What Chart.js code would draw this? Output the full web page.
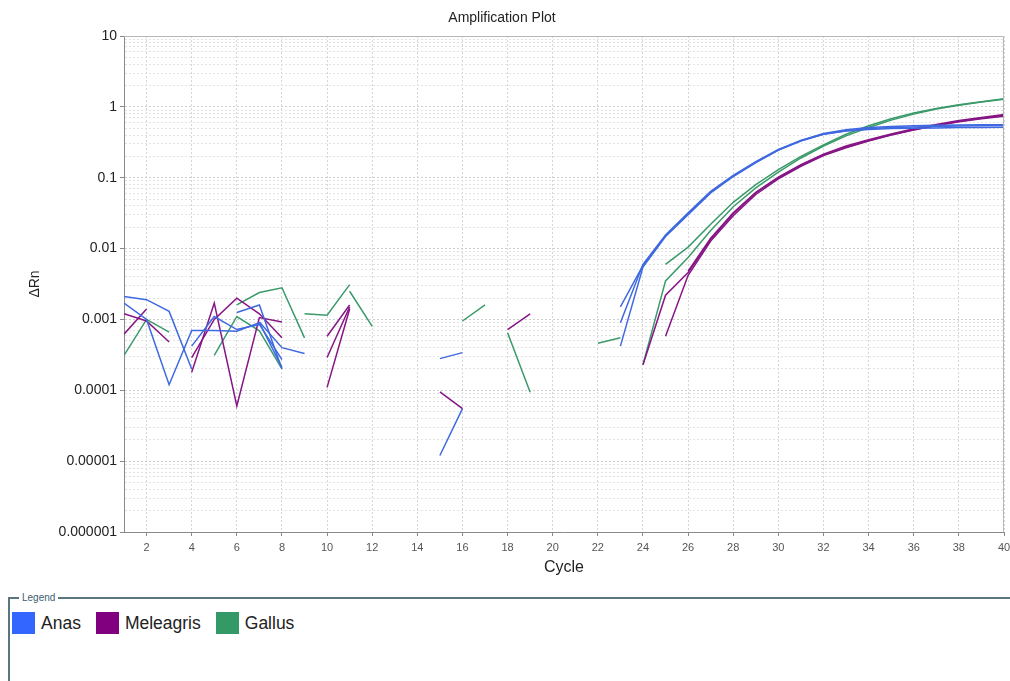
<!DOCTYPE html>
<html>
<head>
<meta charset="utf-8">
<script src="https://cdn.jsdelivr.net/npm/chart.js@4.4.1/dist/chart.umd.min.js"></script>
<style>
html, body { margin: 0; padding: 0; background: #fff; }
body { width: 1010px; height: 681px; position: relative; overflow: hidden; font-family: Arial, "Liberation Sans", sans-serif; }
#plot { position: absolute; left: 0; top: 0; }
#legendBox { position: absolute; left: 8px; top: 597px; width: 1100px; height: 200px; border-top: 2px solid #587580; border-left: 2px solid #587580; }
#legendBox .cap { position: absolute; left: 9px; top: -7px; background: #fff; padding: 0 3px; font-size: 10px; line-height: 12px; color: #3d5d73; }
#legendBox .items { position: absolute; left: 2px; top: 13px; display: flex; align-items: center; }
.sw { width: 23px; height: 22px; margin-right: 6px; }
.lab { font-size: 17.5px; color: #222; margin-right: 15px; }
</style>
</head>
<body>
<canvas id="plot" width="1010" height="590"></canvas>
<div id="legendBox">
    <span class="cap">Legend</span>
    <div class="items" id="legendItems"></div>
</div>
<script>
"use strict";

const cycles = [1, 2, 3, 4, 5, 6, 7, 8, 9, 10, 11, 12, 13, 14, 15, 16, 17, 18, 19, 20,
    21, 22, 23, 24, 25, 26, 27, 28, 29, 30, 31, 32, 33, 34, 35, 36, 37, 38, 39, 40];
const xTickLabels = [2, 4, 6, 8, 10, 12, 14, 16, 18, 20, 22, 24, 26, 28, 30, 32, 34, 36, 38, 40];
const yDecades = [0.000001, 0.00001, 0.0001, 0.001, 0.01, 0.1, 1, 10];
const yTickLabels = ["0.000001", "0.00001", "0.0001", "0.001", "0.01", "0.1", "1", "10"];

const species = ["Anas", "Meleagris", "Gallus"];
const speciesColors = ["#3366ff", "#800080", "#339966"];
const lineColors = ["#3f69e0", "#861585", "#3a9a6a"];

// ΔRn per cycle, null where the value is <= 0 (not drawn on a log axis)
const anas1 = [0.0021, 0.0019, 0.0013, 0.0002, null, 0.00125, 0.0016, 0.0002,
    null, null, null, null, null, null, 0.00028, 0.00034,
    null, null, null, null, null, null,
    0.0015, 0.0058, 0.0152, 0.031, 0.062, 0.105, 0.165, 0.245, 0.33, 0.41,
    0.46, 0.49, 0.51, 0.52, 0.53, 0.535, 0.54, 0.545];
const anas2 = [0.0017, 0.001, 0.00012, 0.0007, 0.0007, 0.00068, 0.0009, 0.00021,
    null, null, null, null, null, null, 0.000012, 0.000055,
    null, null, null, null, null, null,
    0.0009, 0.006, 0.0155, 0.032, 0.064, 0.108, 0.168, 0.25, 0.335, 0.41,
    0.455, 0.48, 0.495, 0.5, 0.505, 0.51, 0.51, 0.515];
const anas3 = [null, null, null, 0.00042, 0.0011, 0.00072, 0.00085, 0.00027,
    null, null, null, null, null, null, null, null, null, null, null, null, null, null,
    0.00042, 0.0055, 0.0148, 0.03, 0.061, 0.104, 0.163, 0.245, 0.335, 0.42,
    0.475, 0.51, 0.53, 0.54, 0.55, 0.555, 0.56, 0.56];
const anas4 = [null, null, null, null, null, null, 0.00092, 0.0004, 0.00033,
    null, null, null, null, null, null, null, null, null, null, null,
    null, null, null, null, null, null, null, null, null, null,
    null, null, null, null, null, null, null, null, null, null];

const meleagris1 = [0.00062, 0.0014, null, 0.00018, 0.0017, 0.00006, 0.00106, 0.00092,
    null, 0.00058, 0.0016, null, null, null, 0.000095, 0.000055,
    null, 0.00072, 0.0012, null, null, null, null,
    0.00023, 0.0022, 0.0046, 0.0135, 0.031, 0.061, 0.1, 0.15, 0.21,
    0.27, 0.335, 0.405, 0.475, 0.545, 0.615, 0.68, 0.74];
const meleagris2 = [null, null, null, 0.00029, 0.001, 0.002, 0.0012, 0.00055,
    null, 0.00029, 0.0015,
    null, null, null, null, null, null, null, null, null, null, null, null, null,
    0.00058, 0.0042, 0.0128, 0.029, 0.058, 0.096, 0.145, 0.205,
    0.265, 0.33, 0.4, 0.47, 0.545, 0.62, 0.69, 0.76];
const meleagris3 = [0.0012, 0.00095, 0.00048, null, null, null, null, null, null,
    0.00011, 0.0014,
    null, null, null, null, null, null, null, null, null, null, null, null, null, null,
    0.0048, 0.014, 0.032, 0.062, 0.102, 0.153, 0.215,
    0.28, 0.345, 0.415, 0.49, 0.565, 0.64, 0.71, 0.78];

const gallus1 = [0.00031, 0.001, 0.00066, null, 0.00031, 0.0011, 0.00069, 0.0002,
    null, null, 0.0025, 0.0008, null, null, null, 0.00095, 0.0016,
    null, null, null, null, 0.00046, 0.00055, null,
    0.006, 0.0105, 0.022, 0.045, 0.08, 0.13, 0.2, 0.29,
    0.41, 0.54, 0.68, 0.82, 0.95, 1.07, 1.18, 1.3];
const gallus2 = [null, null, null, null, null, 0.0016, 0.0024, 0.0028, 0.00055,
    null, null, null, null, null, null, null, null,
    0.00065, 0.000094, null, null, null, null,
    0.00023, 0.0035, 0.0075, 0.018, 0.039, 0.072, 0.12, 0.19, 0.28,
    0.39, 0.51, 0.65, 0.79, 0.93, 1.05, 1.17, 1.28];
const gallus3 = [null, null, null, null, null, null, null, null, 0.0012, 0.00115, 0.0031,
    null, null, null, null, null, null, null, null, null, null, null, null, null, null,
    null, null, null, null, null, null, null, null, null, null, null, null, null, null, null];

const traces = [
    { group: 0, values: anas1 }, { group: 0, values: anas2 }, { group: 0, values: anas3 }, { group: 0, values: anas4 },
    { group: 1, values: meleagris1 }, { group: 1, values: meleagris2 }, { group: 1, values: meleagris3 },
    { group: 2, values: gallus1 }, { group: 2, values: gallus2 }, { group: 2, values: gallus3 }
];

const isDecade = (v) => {
    const l = Math.log10(v);
    return Math.abs(l - Math.round(l)) < 1e-9;
};

const yGrid = [];
yDecades.forEach((d, i) => {
    if (i === yDecades.length - 1) {
        yGrid.push(d);
        return;
    }
    for (let m = 1; m <= 9; m++) yGrid.push(d * m);
});

const framePlugin = {
    id: "frame",
    afterDraw(chart) {
        const { ctx, chartArea: a } = chart;
        ctx.save();
        ctx.strokeStyle = "#b8b8b8";
        ctx.lineWidth = 1;
        ctx.beginPath();
        ctx.moveTo(a.left, a.top + 0.5);
        ctx.lineTo(a.right - 0.5, a.top + 0.5);
        ctx.lineTo(a.right - 0.5, a.bottom);
        ctx.stroke();
        ctx.restore();
    }
};

const datasets = traces.map((t) => ({
    label: species[t.group],
    data: t.values.map((v, i) => ({ x: cycles[i], y: v })),
    borderColor: lineColors[t.group],
    borderWidth: 1.5,
    pointRadius: 0,
    tension: 0,
    spanGaps: false,
    fill: false
}));

new Chart(document.getElementById("plot").getContext("2d"), {
    type: "line",
    data: { datasets },
    plugins: [framePlugin],
    options: {
        responsive: false,
        animation: false,
        layout: { padding: { left: 0, right: 6, top: 0, bottom: 0 } },
        plugins: {
            legend: { display: false },
            tooltip: { enabled: false },
            title: {
                display: true,
                text: "Amplification Plot",
                color: "#222",
                font: { family: "Arial, 'Liberation Sans', sans-serif", size: 14, weight: "normal" },
                padding: { top: 9.6, bottom: 9.6 }
            }
        },
        scales: {
            x: {
                type: "linear",
                min: 1,
                max: 40,
                afterBuildTicks: (scale) => { scale.ticks = xTickLabels.map((v) => ({ value: v })); },
                afterFit: (scale) => { scale.height = 58; scale.paddingLeft = 0; scale.paddingRight = 0; },
                ticks: {
                    autoSkip: false,
                    maxRotation: 0,
                    padding: 5,
                    color: "#555",
                    font: { family: "Arial, 'Liberation Sans', sans-serif", size: 11 }
                },
                grid: { color: "#d6d6d6", lineWidth: 1, tickLength: 4, tickColor: "#888" },
                border: { display: true, color: "#8a8a8a", width: 1, dash: [2, 2] },
                title: {
                    display: true,
                    text: "Cycle",
                    color: "#222",
                    font: { family: "Arial, 'Liberation Sans', sans-serif", size: 16 },
                    padding: { top: 0, bottom: 13 }
                }
            },
            y: {
                type: "logarithmic",
                min: 0.000001,
                max: 10,
                afterBuildTicks: (scale) => { scale.ticks = yGrid.map((v) => ({ value: v, major: isDecade(v) })); },
                afterFit: (scale) => { scale.width = 124; scale.paddingTop = 0; scale.paddingBottom = 0; },
                ticks: {
                    autoSkip: false,
                    padding: 3,
                    color: "#222",
                    font: { family: "Arial, 'Liberation Sans', sans-serif", size: 14 },
                    callback: (value) => {
                        if (!isDecade(value)) return "";
                        const idx = yDecades.findIndex((d) => Math.abs(Math.log10(d) - Math.log10(value)) < 1e-9);
                        return idx >= 0 ? yTickLabels[idx] : "";
                    }
                },
                grid: {
                    color: (ctx) => (ctx.tick && isDecade(ctx.tick.value) ? "#cdcdcd" : "#e3e3e3"),
                    lineWidth: 1,
                    tickLength: 4,
                    tickColor: (ctx) => (ctx.tick && isDecade(ctx.tick.value) ? "#888" : "rgba(0,0,0,0)")
                },
                border: { display: true, color: "#8a8a8a", width: 1, dash: [2, 2] },
                title: {
                    display: true,
                    text: "ΔRn",
                    color: "#222",
                    font: { family: "Arial, 'Liberation Sans', sans-serif", size: 14 },
                    padding: { top: 26.6, bottom: 0 }
                }
            }
        }
    }
});

const legendItems = document.getElementById("legendItems");
species.forEach((name, i) => {
    const sw = document.createElement("span");
    sw.className = "sw";
    sw.style.background = speciesColors[i];
    const lab = document.createElement("span");
    lab.className = "lab";
    lab.textContent = name;
    legendItems.appendChild(sw);
    legendItems.appendChild(lab);
});
</script>
</body>
</html>
